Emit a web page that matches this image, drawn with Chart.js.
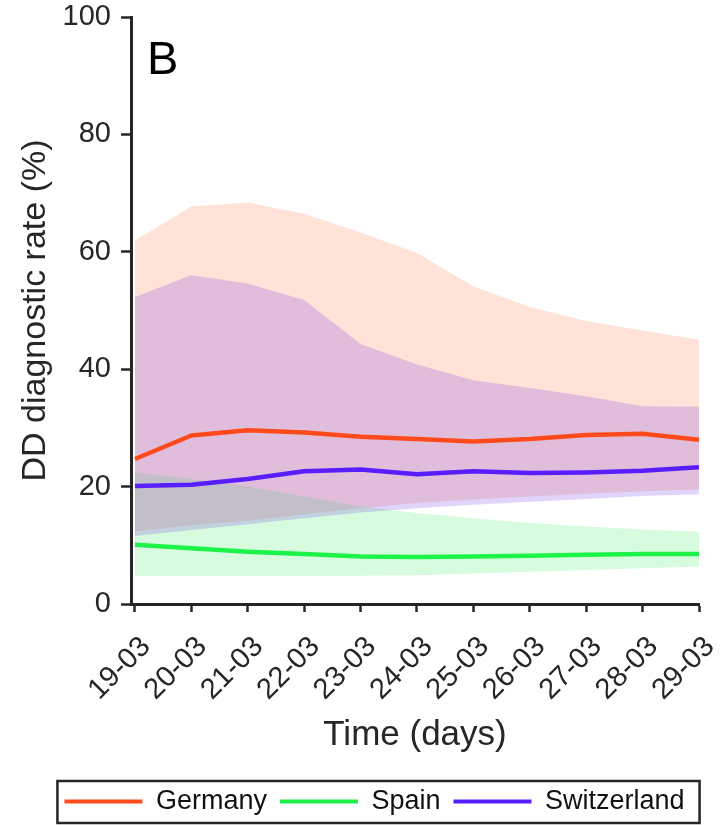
<!DOCTYPE html>
<html>
<head>
<meta charset="utf-8">
<script src="https://cdn.jsdelivr.net/npm/chart.js@4.4.1/dist/chart.umd.min.js"></script>
<style>
  html, body { margin: 0; padding: 0; background: #fff; }
  #wrap { width: 720px; height: 825px; }
</style>
</head>
<body>
<div id="wrap"><canvas id="rateChart" width="720" height="825"></canvas></div>
<script>
// days on the x axis
const days = ['19-03', '20-03', '21-03', '22-03', '23-03', '24-03', '25-03', '26-03', '27-03', '28-03', '29-03'];

// mean diagnostic rate (%) per country
const germany     = [24.7, 28.7, 29.6, 29.2, 28.5, 28.1, 27.7, 28.1, 28.8, 29.0, 28.0];
const spain       = [10.1, 9.5, 8.9, 8.5, 8.1, 8.0, 8.1, 8.2, 8.4, 8.5, 8.5];
const switzerland = [20.1, 20.3, 21.3, 22.6, 22.9, 22.1, 22.6, 22.3, 22.4, 22.7, 23.3];

// confidence bands
const germanyUpper     = [61.9, 67.7, 68.4, 66.5, 63.3, 59.8, 54.1, 50.6, 48.2, 46.6, 45.0];
const germanyLower     = [12.4, 13.4, 14.2, 15.3, 16.3, 17.2, 17.8, 18.3, 18.8, 19.2, 19.5];
const spainUpper       = [22.4, 21.3, 20.0, 18.3, 16.6, 15.5, 14.6, 13.8, 13.2, 12.7, 12.3];
const spainLower       = [4.8, 4.8, 4.8, 4.8, 4.8, 4.9, 5.2, 5.5, 5.8, 6.1, 6.4];
const switzerlandUpper = [52.3, 56.0, 54.6, 51.8, 44.3, 40.8, 38.1, 36.8, 35.4, 33.7, 33.6];
const switzerlandLower = [11.6, 12.6, 13.6, 14.6, 15.6, 16.3, 16.9, 17.4, 17.9, 18.4, 18.7];

const yTicks = [0, 20, 40, 60, 80, 100];

const FONT = "'Liberation Sans', Arial, Helvetica, sans-serif";
const AXIS = '#262626';
const PAD_LEFT = 50;

function meanLine(label, data, color) {
  return {
    label, data,
    borderColor: color, backgroundColor: color,
    borderWidth: 4.5, pointRadius: 0, tension: 0,
    borderJoinStyle: 'round', fill: false, order: 0
  };
}

function band(data, fill, color, order) {
  return {
    label: '', data, fill,
    backgroundColor: color, borderColor: 'rgba(0,0,0,0)',
    borderWidth: 0, pointRadius: 0, tension: 0, order
  };
}

// "B" panel letter and the frame around the legend
const panelDecor = {
  id: 'panelDecor',
  afterDraw(chart) {
    const { ctx, chartArea, legend } = chart;
    ctx.save();
    ctx.fillStyle = '#000';
    ctx.font = '47px ' + FONT;
    ctx.textBaseline = 'alphabetic';
    ctx.fillText('B', chartArea.left + 16, chartArea.top + 57);

    const hit = legend.legendHitBoxes;
    if (hit && hit.length) {
      const first = hit[0], last = hit[hit.length - 1];
      const x0 = first.left - 7, x1 = last.left + last.width + 15;
      const y0 = first.top - 7, y1 = first.top + first.height + 8;
      ctx.strokeStyle = AXIS;
      ctx.lineWidth = 2.5;
      ctx.strokeRect(x0, y0, x1 - x0, y1 - y0);
    }
    ctx.restore();
  }
};

const ctx = document.getElementById('rateChart').getContext('2d');
const rateChart = new Chart(ctx, {
  type: 'line',
  data: {
    labels: days.map((d, i) => i),
    datasets: [
      meanLine('Germany', germany, 'rgb(255,75,28)'),
      meanLine('Spain', spain, 'rgb(28,242,72)'),
      meanLine('Switzerland', switzerland, 'rgb(88,30,255)'),
      band(germanyUpper, 4, 'rgba(255,100,50,0.19)', 3),
      band(germanyLower, false, 'rgba(0,0,0,0)', 3),
      band(spainUpper, 6, 'rgba(40,235,80,0.19)', 2),
      band(spainLower, false, 'rgba(0,0,0,0)', 2),
      band(switzerlandUpper, 8, 'rgba(120,60,230,0.22)', 1),
      band(switzerlandLower, false, 'rgba(0,0,0,0)', 1)
    ]
  },
  options: {
    responsive: false,
    animation: false,
    layout: { padding: { left: PAD_LEFT, right: 21, top: 17, bottom: 0 } },
    plugins: {
      tooltip: { enabled: false },
      legend: {
        position: 'bottom',
        labels: {
          boxWidth: 78,
          boxHeight: 4,
          padding: 13,
          color: '#111',
          font: { family: FONT, size: 27 },
          generateLabels(chart) {
            return Chart.defaults.plugins.legend.labels.generateLabels(chart)
              .filter(item => item.datasetIndex < 3)
              .map(item => Object.assign(item, { fillStyle: item.strokeStyle, lineWidth: 0 }));
          }
        }
      }
    },
    scales: {
      x: {
        type: 'linear',
        bounds: 'data',
        min: -0.07,
        max: days.length - 1,
        afterBuildTicks: s => { s.ticks = days.map((d, i) => ({ value: i })); },
        afterFit: s => { s.height = 171; s.paddingLeft = 0; s.paddingRight = 0; },
        ticks: {
          autoSkip: false,
          minRotation: 45,
          maxRotation: 45,
          padding: 18,
          labelOffset: 11,
          color: AXIS,
          font: { family: FONT, size: 29 },
          callback: v => days[v]
        },
        grid: { drawOnChartArea: false, drawTicks: true, tickLength: 8, tickWidth: 2.5, tickColor: AXIS, color: AXIS },
        border: { display: true, color: AXIS, width: 3 },
        title: {
          display: true, text: 'Time (days)', color: AXIS,
          font: { family: FONT, size: 35 },
          padding: { top: 0, bottom: 19 }
        }
      },
      y: {
        min: 0,
        max: 100,
        afterBuildTicks: s => { s.ticks = yTicks.map(v => ({ value: v })); },
        afterFit: s => { s.width = 131 - PAD_LEFT; s.paddingTop = 0; s.paddingBottom = 0; },
        ticks: { padding: 10, color: AXIS, font: { family: FONT, size: 29 } },
        grid: { drawOnChartArea: false, drawTicks: true, tickLength: 10, tickWidth: 2.5, tickColor: AXIS, color: AXIS },
        border: { display: true, color: AXIS, width: 3 },
        title: {
          display: true, text: 'DD diagnostic rate (%)', color: AXIS,
          font: { family: FONT, size: 34 },
          padding: { top: -35, bottom: 0 }
        }
      }
    }
  },
  plugins: [panelDecor]
});
</script>
</body>
</html>
